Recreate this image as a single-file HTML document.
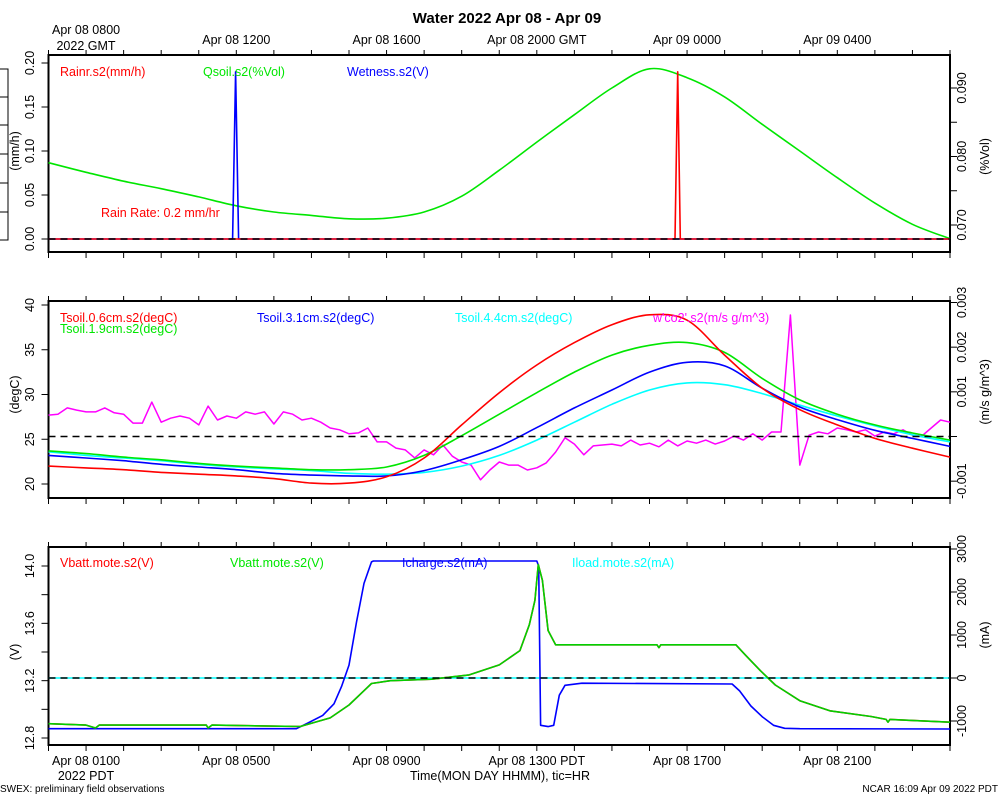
<!DOCTYPE html>
<html><head><meta charset="utf-8"><style>
body{margin:0;background:#fff}
svg{display:block;font-family:"Liberation Sans",sans-serif}
</style></head><body>
<svg id="chart" width="1000" height="800" viewBox="0 0 1000 800" xmlns="http://www.w3.org/2000/svg"></svg>
<script>
// ---- data ----
const hours = 24;
const rainTimes = [0, 16.68, 16.75, 16.82, 24];
const rainValues = [0, 0, 0.19, 0, 0];
const wetTimes = [0, 4.9, 4.98, 5.06, 24];
const wetValues = [0, 0, 0.19, 0, 0];
const qsoilValues = [0.0791,0.0777,0.0764,0.0753,0.0741,0.0728,0.0719,0.0714,0.0709,0.0710,0.0719,0.0742,0.0780,0.0821,0.0861,0.0900,0.0928,0.0915,0.0887,0.0847,0.0808,0.0769,0.0732,0.0701,0.0680];
const tsoil06 = [22.0,21.8,21.6,21.3,21.1,20.9,20.6,20.1,20.1,20.8,22.9,26.6,30.2,33.3,35.8,37.8,38.9,38.3,34.4,30.7,28.3,26.6,25.1,24.0,23.0];
const tsoil19 = [23.7,23.4,23.0,22.7,22.3,22.0,21.8,21.6,21.6,21.9,23.2,25.4,27.8,30.2,32.5,34.4,35.5,35.8,34.7,31.8,29.4,27.8,26.6,25.7,24.9];
const tsoil31 = [23.2,22.9,22.6,22.2,21.9,21.6,21.2,21.0,20.9,20.9,21.5,22.7,24.2,26.3,28.5,30.5,32.5,33.6,33.2,30.7,28.6,27.2,26.0,25.1,24.2];
const tsoil44 = [23.6,23.2,22.9,22.6,22.2,21.9,21.7,21.5,21.2,21.1,21.3,22.0,23.2,24.9,26.9,28.9,30.5,31.3,31.1,30.1,28.8,27.6,26.5,25.5,24.7];
// w'co2' in units of 0.001 m/s g/m^3, sampled every 0.25 h
const wco2 = [.48,.50,.64,.59,.55,.55,.64,.53,.50,.30,.30,.77,.32,.41,.46,.41,.26,.68,.37,.46,.41,.55,.50,.55,.28,.55,.50,.37,.41,.32,
.19,.15,.06,.08,.19,-.12,-.12,-.26,-.30,-.48,-.30,-.41,-.19,-.44,-.57,-.64,-.97,-.75,-.57,-.64,-.64,-.75,-.70,-.59,-.35,-.03,-.17,-.41,-.21,-.19,
-.17,-.21,-.08,-.19,-.15,-.23,-.08,-.21,-.10,-.15,-.08,-.17,-.10,.01,-.08,.06,-.08,.10,.10,2.72,-.64,.03,.10,.06,.19,.15,.10,.15,.01,.10,
.06,.15,.03,.01,.19,.37,.32];
const vbTimes = [0,1.0,1.25,1.35,4.2,4.25,4.35,6.7,7.5,8.0,8.4,8.6,9.1,10.2,11.2,12.0,12.55,12.8,12.95,13.04,13.15,13.3,13.5,16.2,16.25,16.3,18.3,18.55,18.95,19.35,20.0,20.8,21.9,22.3,22.35,22.4,24];
const vbValues = [12.90,12.89,12.87,12.89,12.89,12.87,12.89,12.88,12.94,13.03,13.13,13.18,13.20,13.21,13.24,13.31,13.41,13.59,13.76,14.01,13.90,13.55,13.45,13.45,13.43,13.45,13.45,13.38,13.27,13.17,13.06,12.99,12.95,12.93,12.91,12.93,12.91];
const icTimes = [0,6.6,6.9,7.3,7.6,7.8,8.0,8.2,8.4,8.6,8.65,13.0,13.05,13.1,13.3,13.45,13.6,13.75,14.2,18.2,18.4,18.7,19.0,19.3,19.6,20,24];
const icValues = [-1180,-1180,-1050,-870,-600,-200,300,1300,2200,2700,2720,2720,2600,-1100,-1130,-1100,-400,-170,-120,-140,-300,-650,-900,-1100,-1170,-1180,-1185];
const ilTimes = [0,24];
const ilValues = [0,0];
const gmtLabels = ["Apr 08 0800","Apr 08 1200","Apr 08 1600","Apr 08 2000 GMT","Apr 09 0000","Apr 09 0400"];
const pdtLabels = ["Apr 08 0100","Apr 08 0500","Apr 08 0900","Apr 08 1300 PDT","Apr 08 1700","Apr 08 2100"];

// ---- layout ----
const svg = document.getElementById('chart');
const NS = 'http://www.w3.org/2000/svg';
const X0 = 48.5, X1 = 950;
const xs = h => X0 + (X1 - X0) * h / hours;
function lin(v0, p0, v1, p1){ return v => p0 + (v - v0) * (p1 - p0) / (v1 - v0); }
function mk(tag, attrs, parent){ const e = document.createElementNS(NS, tag); for (const k in attrs) e.setAttribute(k, attrs[k]); (parent||svg).appendChild(e); return e; }
function txt(s, x, y, opts){ const t = mk('text', Object.assign({x:x, y:y, 'font-size':12.5, fill:'#000'}, opts||{})); t.textContent = s; return t; }
function vtxt(s, x, y, opts){ return txt(s, 0, 0, Object.assign({transform:`translate(${x},${y}) rotate(-90)`, 'text-anchor':'middle'}, opts||{})); }
function pathFrom(ts, vs, ys){ return ts.map((t,i)=>(i?'L':'M')+xs(t).toFixed(1)+','+ys(vs[i]).toFixed(1)).join(''); }
function smoothFrom(ts, vs, ys){
  const P = ts.map((t,i)=>[xs(t), ys(vs[i])]);
  let d = 'M'+P[0][0].toFixed(1)+','+P[0][1].toFixed(1);
  for(let i=0;i<P.length-1;i++){
    const p0=P[Math.max(0,i-1)], p1=P[i], p2=P[i+1], p3=P[Math.min(P.length-1,i+2)];
    const c1=[p1[0]+(p2[0]-p0[0])/6, p1[1]+(p2[1]-p0[1])/6];
    const c2=[p2[0]-(p3[0]-p1[0])/6, p2[1]-(p3[1]-p1[1])/6];
    d+=`C${c1[0].toFixed(1)},${c1[1].toFixed(1)} ${c2[0].toFixed(1)},${c2[1].toFixed(1)} ${p2[0].toFixed(1)},${p2[1].toFixed(1)}`;
  }
  return d;
}

const panels = [{top:55,bot:252},{top:301,bot:498},{top:547,bot:745}];

const title = txt('Water 2022 Apr 08 - Apr 09', 507, 23, {'font-size':15,'font-weight':'bold','text-anchor':'middle'});



const cb = mk('g', {});


mk('rect',{x:-10,y:69,width:18,height:171,fill:'none',stroke:'#000','stroke-width':1},cb);
[97,125,154,183,212].forEach(y=>mk('line',{x1:0,x2:8,y1:y,y2:y,stroke:'#000'},cb));

panels.forEach((p,i)=>{
  const g = mk('g',{});
  
  
  mk('rect',{x:X0,y:p.top,width:X1-X0,height:p.bot-p.top,fill:'none',stroke:'#000','stroke-width':2},g);
  for(let h=0;h<=hours;h++){
    const x=xs(h);
    mk('line',{x1:x,x2:x,y1:p.top,y2:p.top-5,stroke:'#000'},g);
    mk('line',{x1:x,x2:x,y1:p.bot,y2:p.bot+6,stroke:'#000'},g);
  }
});

gmtLabels.forEach((s,i)=>{
  const t = txt(s, xs(1+4*i), i===0?34:44, {'text-anchor':'middle'});
  
  
});
const g2 = txt('2022 GMT', 86, 50, {'text-anchor':'middle'});
 
pdtLabels.forEach((s,i)=>{
  const t = txt(s, xs(1+4*i), 765, {'text-anchor':'middle'});
  
  
});
const p2 = txt('2022 PDT', 86, 780, {'text-anchor':'middle'});
 
const xt = txt('Time(MON DAY HHMM), tic=HR', 500, 780, {'text-anchor':'middle'});
 
const f1 = txt('SWEX: preliminary field observations', 0, 792, {'font-size':10});
 
const f2 = txt('NCAR 16:09 Apr 09 2022 PDT', 998, 792, {'font-size':10,'text-anchor':'end'});
 

function axis(side, scale, ticks, labels, fmt, title, name){
  const g = mk('g',{});
  
  
  const xe = side==='L'?X0:X1, d = side==='L'?-7:7;
  ticks.forEach(v=>mk('line',{x1:xe,x2:xe+d,y1:scale(v),y2:scale(v),stroke:'#000'},g));
  labels.forEach(v=>{ const t=vtxt(fmt(v), side==='L'?34:966, scale(v), {}); g.appendChild(t); });
  const yc = (scale(ticks[0])+scale(ticks[ticks.length-1]))/2;
  g.appendChild(vtxt(title, side==='L'?19:989, yc, {}));
}
function line(d, color, name, w){
  const e = mk('path',{d:d,fill:'none',stroke:color,'stroke-width':w||1.6,'stroke-linejoin':'round'});
  
  
  return e;
}
function dash(y, name){
  const e = mk('line',{x1:X0,x2:X1,y1:y,y2:y,stroke:'#000','stroke-width':1.6,'stroke-dasharray':'7,5'});
  
  
}
function legend(s, x, y, color, name){
  const t = txt(s, x, y, {fill:color});
  
  
}
const hourly = qsoilValues.map((_,i)=>i);

// ---- panel 1 ----
const yMM = lin(0, 239, 0.2, 63);
const yVol = lin(0.070, 225, 0.090, 88);
axis('L', yMM, [0,0.05,0.1,0.15,0.2], [0,0.05,0.1,0.15,0.2], v=>v.toFixed(2), '(mm/h)', 'y-axis-left-rain');
axis('R', yVol, [0.070,0.075,0.080,0.085,0.090], [0.070,0.080,0.090], v=>v.toFixed(3), '(%Vol)', 'y-axis-right-qsoil');
line(smoothFrom(hourly, qsoilValues, yVol), '#00e600', 'qsoil-line');
line(pathFrom(wetTimes, wetValues, yMM), '#0000ff', 'wetness-line');
line(pathFrom(rainTimes, rainValues, yMM), '#ff0000', 'rain-line');
dash(yMM(0), 'rain-zero-line');
legend('Rainr.s2(mm/h)', 60, 76, '#ff0000', 'legend-rain');
legend('Qsoil.s2(%Vol)', 203, 76, '#00e600', 'legend-qsoil');
legend('Wetness.s2(V)', 347, 76, '#0000ff', 'legend-wetness');
legend('Rain Rate: 0.2 mm/hr', 101, 217, '#ff0000', 'rain-rate-note');

// ---- panel 2 ----
const yT = lin(20, 484, 40, 305);
const yF = lin(0, 436.5, 3, 302.5);
axis('L', yT, [20,25,30,35,40], [20,25,30,35,40], v=>String(v), '(degC)', 'y-axis-left-tsoil');
axis('R', yF, [-1,0,1,2,3], [-1,1,2,3], v=>(v/1000).toFixed(3), '(m/s g/m^3)', 'y-axis-right-flux');
const wTimes = wco2.map((_,i)=>i*0.25);
line(pathFrom(wTimes, wco2, yF), '#ff00ff', 'wco2-line', 1.5);
line(smoothFrom(hourly, tsoil44, yT), '#00ffff', 'tsoil-4.4-line');
line(smoothFrom(hourly, tsoil31, yT), '#0000ff', 'tsoil-3.1-line');
line(smoothFrom(hourly, tsoil19, yT), '#00e600', 'tsoil-1.9-line');
line(smoothFrom(hourly, tsoil06, yT), '#ff0000', 'tsoil-0.6-line');
dash(yF(0), 'flux-zero-line');
legend('Tsoil.0.6cm.s2(degC)', 60, 322, '#ff0000', 'legend-tsoil-0.6');
legend('Tsoil.1.9cm.s2(degC)', 60, 333, '#00e600', 'legend-tsoil-1.9');
legend('Tsoil.3.1cm.s2(degC)', 257, 322, '#0000ff', 'legend-tsoil-3.1');
legend('Tsoil.4.4cm.s2(degC)', 455, 322, '#00ffff', 'legend-tsoil-4.4');
legend("w'co2'.s2(m/s g/m^3)", 653, 322, '#ff00ff', 'legend-wco2');

// ---- panel 3 ----
const yV = lin(12.8, 738, 14.0, 566);
const yA = lin(0, 678, 3000, 549);
axis('L', yV, [12.8,13.0,13.2,13.4,13.6,13.8,14.0], [12.8,13.2,13.6,14.0], v=>v.toFixed(1), '(V)', 'y-axis-left-volts');
axis('R', yA, [-1000,0,1000,2000,3000], [-1000,0,1000,2000,3000], v=>String(v), '(mA)', 'y-axis-right-current');
line(pathFrom(ilTimes, ilValues, yA), '#00ffff', 'iload-line');
line(pathFrom(icTimes, icValues, yA), '#0000ff', 'icharge-line');
line(pathFrom(vbTimes, vbValues, yV), '#ff0000', 'vbatt-red-line');
line(pathFrom(vbTimes, vbValues, yV), '#00d000', 'vbatt-green-line');
dash(yA(0), 'current-zero-line');
legend('Vbatt.mote.s2(V)', 60, 567, '#ff0000', 'legend-vbatt-red');
legend('Vbatt.mote.s2(V)', 230, 567, '#00e600', 'legend-vbatt-green');
legend('Icharge.s2(mA)', 402, 567, '#0000ff', 'legend-icharge');
legend('Iload.mote.s2(mA)', 572, 567, '#00ffff', 'legend-iload');
</script>
</body></html>
